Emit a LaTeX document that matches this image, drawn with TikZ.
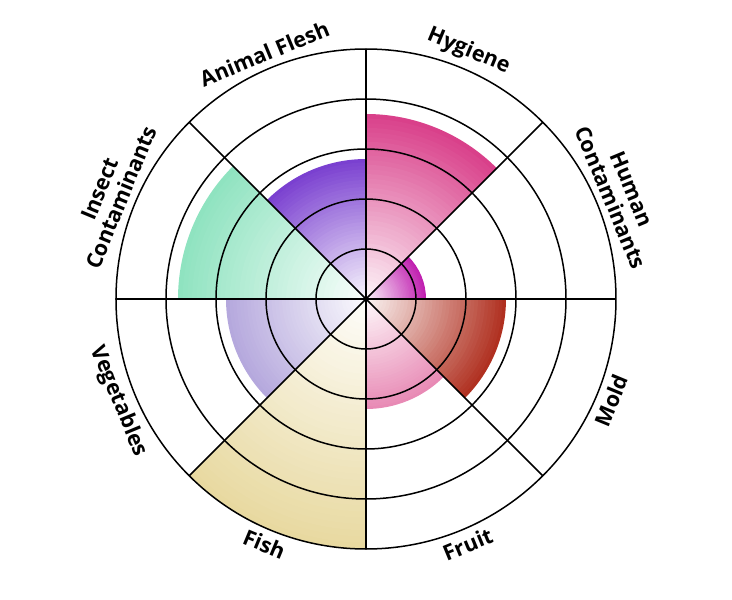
\documentclass[tikz,border=0pt]{standalone}
\usepackage{fontspec}
\setmainfont{Open Sans}
\definecolor{hyg}{HTML}{D9408A}
\definecolor{hum}{HTML}{C020B0}
\definecolor{mold}{HTML}{B03020}
\definecolor{fruit}{HTML}{E88AB5}
\definecolor{fish}{HTML}{E8D9A0}
\definecolor{veg}{HTML}{B5A8DD}
\definecolor{insect}{HTML}{8FE3C0}
\definecolor{animal}{HTML}{7A40D0}
\tikzset{grid/.style={line width=1.5pt,black},
lblup/.style={font=\bfseries\fontsize{21.5}{23}\selectfont,align=center,anchor=south,inner sep=0pt},
lbldn/.style={font=\bfseries\fontsize{21.5}{23}\selectfont,align=center,anchor=north,inner sep=0pt}}
\begin{document}
\begin{tikzpicture}[x=1pt,y=1pt]
\useasboundingbox (-366,-301) rectangle (366,299);
\foreach \a/\r/\c in {45/185/hyg,0/60/hum,-45/140/mold,-90/110/fruit,-135/250/fish,180/140/veg,135/188/insect,90/140/animal}{
  \foreach \i in {40,39,...,1}{
    \pgfmathsetmacro\rr{\r*\i/40}
    \pgfmathtruncatemacro\p{4+96*\i/40}
    \fill[\c!\p!white] (0,0) -- (\a:\rr) arc[start angle=\a, end angle=\a+45, radius=\rr] -- cycle;
  }
}
\foreach \r in {50,100,150,200,250}{\draw[grid] (0,0) circle[radius=\r];}
\foreach \a in {0,45,...,315}{\draw[grid] (0,0) -- (\a:250);}
\node[lblup,rotate=-67.5] (l1) at (22.5:257) {Human\\Contaminants};
\node[lblup,rotate=-22.5] (l2) at (67.5:257) {Hygiene};
\node[lblup,rotate=22.5] (l3) at (112.5:257) {Animal Flesh};
\node[lblup,rotate=67.5] (l4) at (157.5:257) {Insect\\Contaminants};
\node[lbldn,rotate=-67.5] (l5) at (-157.5:257) {Vegetables};
\node[lbldn,rotate=-22.5] (l6) at (-112.5:257) {Fish};
\node[lbldn,rotate=22.5] (l7) at (-67.5:257) {Fruit};
\node[lbldn,rotate=67.5] (l8) at (-22.5:257) {Mold};
\end{tikzpicture}
\end{document}
